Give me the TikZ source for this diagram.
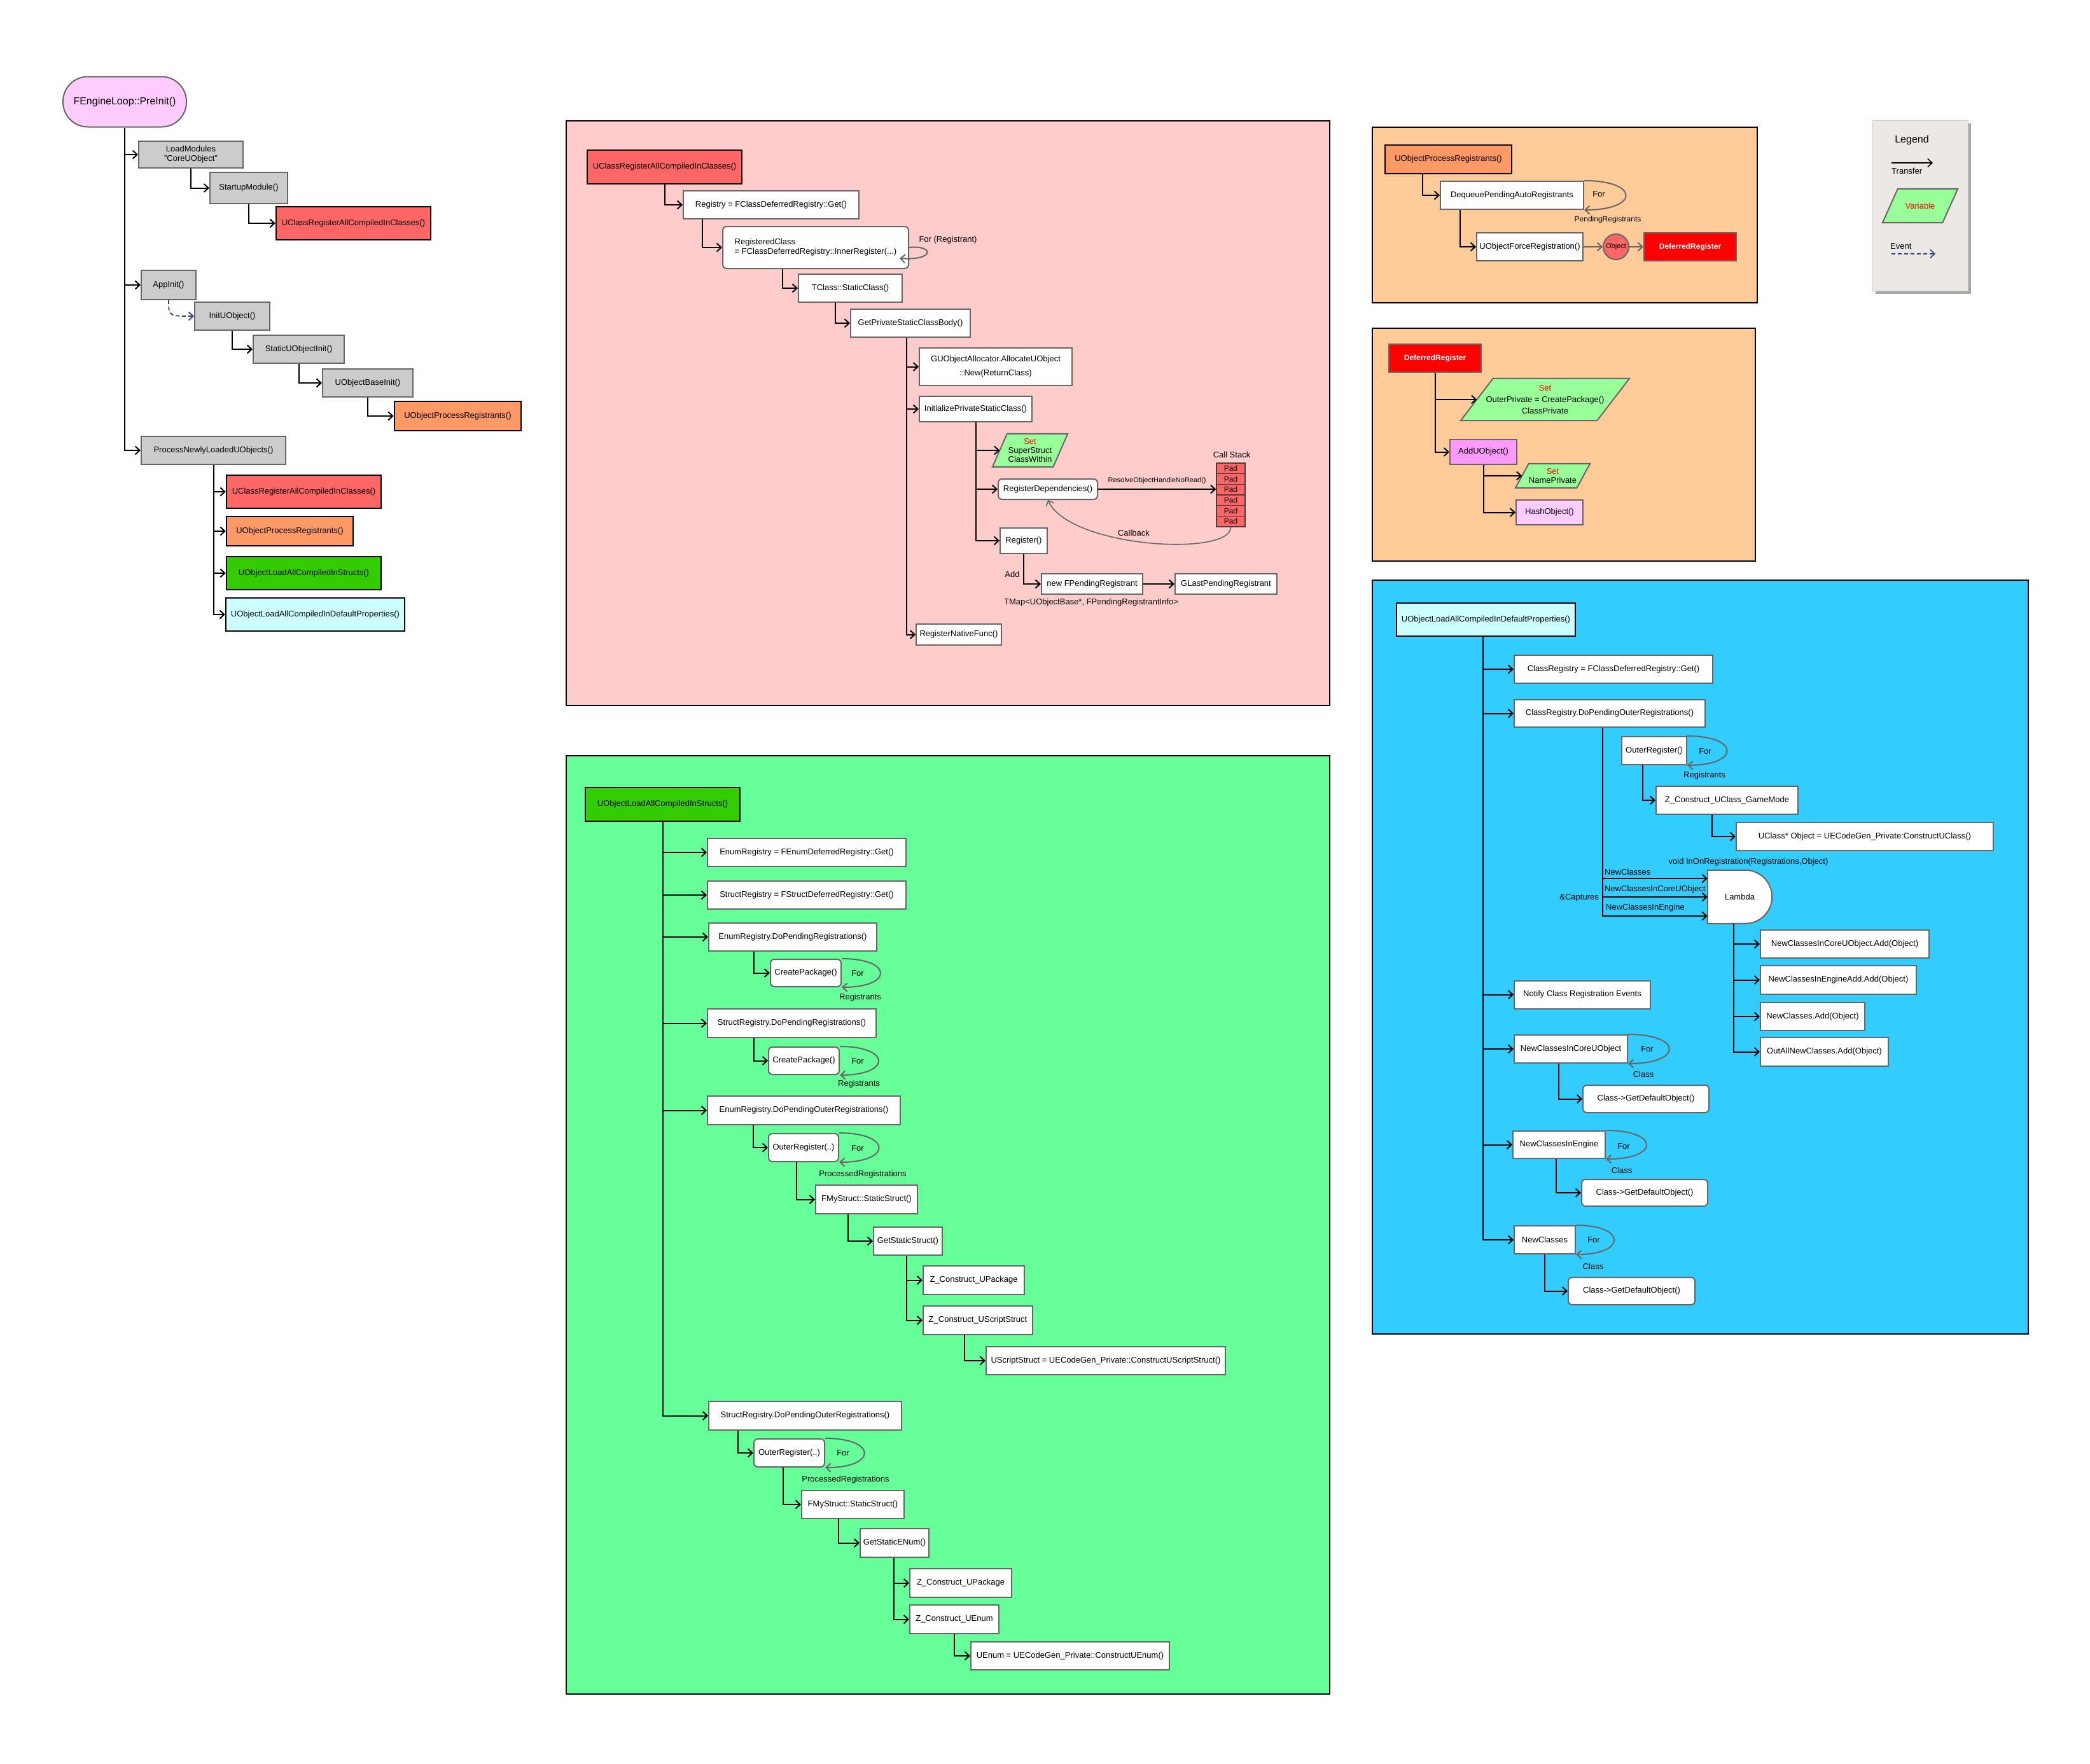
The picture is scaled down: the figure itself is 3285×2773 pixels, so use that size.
\documentclass[tikz,border=0pt]{standalone}
\usepackage{fontspec}
\setmainfont{Liberation Sans}
\usetikzlibrary{arrows.meta}

\definecolor{panred}{HTML}{FFCCCC}
\definecolor{panorange}{HTML}{FFCC99}
\definecolor{pangreen}{HTML}{66FF99}
\definecolor{panblue}{HTML}{33CCFF}
\definecolor{legbg}{HTML}{ECE9E4}
\definecolor{edgegray}{HTML}{666666}
\definecolor{boxgray}{HTML}{CCCCCC}
\definecolor{fnred}{HTML}{FF6666}
\definecolor{fnorange}{HTML}{FF9966}
\definecolor{fngreen}{HTML}{33CC00}
\definecolor{fncyan}{HTML}{CCFFFF}
\definecolor{fnpink}{HTML}{FFCCFF}
\definecolor{fnviolet}{HTML}{FF99FF}
\definecolor{varfill}{HTML}{99FF99}
\definecolor{evblue}{HTML}{2E3D8F}

\pgfdeclarelayer{panel}
\pgfdeclarelayer{shape}
\pgfsetlayers{panel,shape,main}

\tikzset{
  fn/.style={font=\fontsize{13}{15}\selectfont},
  sz/.style 2 args={minimum width=#1, minimum height=#2},
  wbox/.style={draw=edgegray, line width=2pt, fill=white, inner sep=0pt, align=center, fn},
  rbox/.style={wbox, rounded corners=6pt},
  gbox/.style={wbox, fill=boxgray},
  head/.style={wbox, draw=black, line width=2.5pt},
  defreg/.style={wbox, fill=red, text=white, font=\fontsize{12}{14}\selectfont\bfseries},
  varnode/.style={inner sep=0pt, align=center, font=\fontsize{13}{14}\selectfont},
  varline/.style={draw=edgegray, fill=varfill, line width=2pt},
  objnode/.style={circle, draw=edgegray, fill=fnred, line width=2pt, minimum size=40, inner sep=0pt, font=\fontsize{11}{11}\selectfont},
  padcell/.style={draw=black!75, fill=fnred, line width=1.5pt, sz={45}{16.67}, inner sep=0pt, font=\fontsize{12}{12}\selectfont},
  lbl/.style={inner sep=0pt, fn},
  panelbox/.style={draw=black, line width=2.5pt},
  arr/.style={line width=2pt, -{Straight Barb[length=7pt,width=13pt]}},
  garr/.style={arr, draw=edgegray},
  forline/.style={draw=edgegray, line width=2pt, -{Straight Barb[length=7pt,width=13pt]}},
  evarrow/.style={draw=evblue, line width=1.8pt, dash pattern=on 6pt off 4pt, -{Straight Barb[length=7pt,width=13pt]}}
}

\begin{document}
\begin{tikzpicture}[x=1pt, y=-1pt]
  \useasboundingbox (0,0) rectangle (3285,2773);

  \begin{pgfonlayer}{panel}
    \draw[panelbox, fill=panred] (890,190) rectangle (2090,1109);
    \draw[panelbox, fill=panorange] (2157,200) rectangle (2762,476);
    \draw[panelbox, fill=panorange] (2157,516) rectangle (2759,882);
    \draw[panelbox, fill=panblue] (2157,912) rectangle (3188,2097);
    \draw[panelbox, fill=pangreen] (890,1188) rectangle (2090,2663);
    \fill[black!35] (2948,194) rectangle (3098,462);
    \draw[draw=black!20, fill=legbg] (2943,189) rectangle (3093,457);
  \end{pgfonlayer}

  \node[wbox, fill=fnpink, rounded corners=39pt, sz={194}{79}, font=\fontsize{16}{18}\selectfont] (pre) at (196,160) {FEngineLoop::PreInit()};
  \node[gbox, sz={164}{42}] (lm) at (300,243) {LoadModules\\"CoreUObject"};
  \node[gbox, sz={122}{49}] (su) at (391,295.5) {StartupModule()};
  \node[head, fill=fnred, sz={243}{52}] (ucr1) at (555.5,351) {UClassRegisterAllCompiledInClasses()};
  \node[gbox, sz={86}{46}] (ai) at (265,448) {AppInit()};
  \node[gbox, sz={118}{44}] (iu) at (365,497) {InitUObject()};
  \node[gbox, sz={143}{44}] (soi) at (469.5,549) {StaticUObjectInit()};
  \node[gbox, sz={142}{44}] (obi) at (578,602) {UObjectBaseInit()};
  \node[head, fill=fnorange, sz={199}{46}] (opr1) at (719.5,654) {UObjectProcessRegistrants()};
  \node[gbox, sz={227}{44}] (pnl) at (335.5,708) {ProcessNewlyLoadedUObjects()};
  \node[head, fill=fnred, sz={243}{52}] (ucr2) at (477.5,773) {UClassRegisterAllCompiledInClasses()};
  \node[head, fill=fnorange, sz={199}{46}] (opr2) at (455.5,835) {UObjectProcessRegistrants()};
  \node[head, fill=fngreen, sz={243}{52}] (lcs1) at (477.5,901) {UObjectLoadAllCompiledInStructs()};
  \node[head, fill=fncyan, sz={281}{52}] (ldp1) at (495.5,966) {UObjectLoadAllCompiledInDefaultProperties()};

  \foreach \t in {lm,ai,pnl} \draw[arr] (pre.south) |- (\t.west);
  \draw[arr] (lm.south) |- (su.west);
  \draw[arr] (su.south) |- (ucr1.west);
  \draw[evarrow] (ai.south) .. controls (ai.south |- iu.west) .. (iu.west);
  \draw[arr] (iu.south) |- (soi.west);
  \draw[arr] (soi.south) |- (obi.west);
  \draw[arr] (obi.south) |- (opr1.west);
  \foreach \t in {ucr2,opr2,lcs1,ldp1} \draw[arr] (pnl.south) |- (\t.west);

  \node[head, fill=fnred, sz={243}{53}] (ucr3) at (1044.5,262.5) {UClassRegisterAllCompiledInClasses()};
  \node[wbox, sz={276}{44}] (reg) at (1212,322) {Registry = FClassDeferredRegistry::Get()};
  \node[rbox, align=left, sz={292}{66}] (rc) at (1282,389) {RegisteredClass\\= FClassDeferredRegistry::InnerRegister(...)};
  \node[wbox, sz={163}{44}] (tc) at (1336.5,453) {TClass::StaticClass()};
  \node[wbox, sz={188}{44}] (gp) at (1431,508) {GetPrivateStaticClassBody()};
  \node[wbox, sz={240}{59}] (ga) at (1565,576.5) {GUObjectAllocator.AllocateUObject\\[7pt]::New(ReturnClass)};
  \node[wbox, sz={177}{40}] (ip) at (1533.5,643) {InitializePrivateStaticClass()};
  \node[varnode, sz={118}{52}] (ss) at (1619,708) {{\color{red}Set}\\SuperStruct\\ClassWithin};
  \node[rbox, sz={156}{32}] (rd) at (1647,769) {RegisterDependencies()};
  \node[wbox, sz={74}{40}] (rg) at (1609,850) {Register()};
  \node[wbox, sz={159}{32}] (nf) at (1716.5,918) {new FPendingRegistrant};
  \node[wbox, sz={160}{32}] (gl) at (1927,918) {GLastPendingRegistrant};
  \node[wbox, sz={134}{33}] (rn) at (1507,997.5) {RegisterNativeFunc()};
  \node[lbl] (csl) at (1936,715) {Call Stack};
  \foreach \i in {0,...,5} \node[padcell] (p\i) at (1934.5,{736.3+16.67*\i}) {Pad};
  \node[lbl] (forreg) at (1490,377) {For (Registrant)};
  \node[lbl] (addl) at (1591,903) {Add};
  \node[lbl] (tmap) at (1715,947) {TMap<UObjectBase*, FPendingRegistrantInfo>};
  \node[lbl] (cbl) at (1782,838) {Callback};

  \draw[arr] (ucr3.south) |- (reg.west);
  \draw[arr] ([xshift=31pt]reg.south west) |- (rc.west);
  \draw[forline] (rc.east) .. controls +(40,-4) and +(55,4) .. ([shift={(-15pt,-17pt)}]rc.east);
  \draw[arr] ([xshift=95pt]rc.south west) |- (tc.west);
  \draw[arr] ([xshift=59pt]tc.south west) |- (gp.west);
  \foreach \t in {ga,ip,rn} \draw[arr] ([xshift=-6pt]gp.south) |- (\t.west);
  \draw[arr] (ip.south) |- ([xshift=11.5pt]ss.west);
  \draw[arr] (ip.south) |- (rd.west);
  \draw[arr] (ip.south) |- (rg.west);
  \draw[arr] (rd.east) -- (rd.east -| p2.west) node[midway, above=7pt, lbl, font=\fontsize{11}{11}\selectfont] {ResolveObjectHandleNoRead()};
  \draw[forline, line width=1.6pt] (p5.south) .. controls +(0,47) and +(34,75) .. (rd.south);
  \draw[arr] (rg.south) |- (nf.west);
  \draw[arr] (nf.east) -- (gl.west);

  \node[head, fill=fnorange, sz={199}{45}] (opr3) at (2276.5,250.5) {UObjectProcessRegistrants()};
  \node[wbox, sz={225}{44}] (dq) at (2376.5,307) {DequeuePendingAutoRegistrants};
  \node[wbox, sz={167}{44}] (fr) at (2404.5,388) {UObjectForceRegistration()};
  \node[objnode] (obj) at (2540,388) {Object};
  \node[defreg, sz={145}{44}] (dr1) at (2656.5,388) {DeferredRegister};
  \node[lbl] (forpr) at (2513,305) {For};
  \node[lbl, font=\fontsize{12}{12}\selectfont] (prl) at (2527,345) {PendingRegistrants};

  \draw[arr] ([xshift=60pt]opr3.south west) |- (dq.west);
  \draw[forline] (dq.north east) .. controls +(87,0) and +(87,0) .. (dq.south east);
  \draw[arr] ([xshift=32pt]dq.south west) |- (fr.west);
  \draw[garr] (fr.east) -- (obj.west);
  \draw[garr] (obj.east) -- (dr1.west);

  \node[defreg, sz={145}{44}] (dr2) at (2255.5,563) {DeferredRegister};
  \node[varnode, sz={265}{66}, font=\fontsize{13}{18}\selectfont] (op) at (2428.5,628) {{\color{red}Set}\\OuterPrivate = CreatePackage()\\ClassPrivate};
  \node[wbox, fill=fnviolet, sz={105}{39}] (au) at (2331.5,710.5) {AddUObject()};
  \node[varnode, sz={117}{38}] (np) at (2440.5,748) {{\color{red}Set}\\NamePrivate};
  \node[wbox, fill=fnpink, sz={105}{39}] (ho) at (2435.5,805.5) {HashObject()};

  \draw[arr] (dr2.south) |- ([xshift=25.5pt]op.west);
  \draw[arr] (dr2.south) |- (au.west);
  \draw[arr] (au.south) |- ([xshift=10.5pt]np.west);
  \draw[arr] (au.south) |- (ho.west);

  \node[lbl, font=\fontsize{16}{16}\selectfont] (legt) at (3005,220) {Legend};
  \coordinate (tr1) at (2973,256);
  \coordinate (tr2) at (3038,256);
  \draw[arr, line width=1.6pt] (tr1) -- (tr2);
  \node[lbl, anchor=west] (trl) at (2973,269) {Transfer};
  \node[varnode, sz={118}{53}] (lv) at (3018,323.5) {\color{red}Variable};
  \node[lbl, anchor=west] (evl) at (2971,387) {Event};
  \coordinate (ev1) at (2973,399);
  \coordinate (ev2) at (3042,399);
  \draw[evarrow, line width=1.6pt] (ev1) -- (ev2);

  \node[head, fill=fncyan, sz={281}{52}] (ldp2) at (2335.5,974) {UObjectLoadAllCompiledInDefaultProperties()};
  \node[wbox, sz={312}{44}] (cr) at (2536,1052) {ClassRegistry = FClassDeferredRegistry::Get()};
  \node[wbox, sz={300}{43}] (cdo) at (2530,1121.5) {ClassRegistry.DoPendingOuterRegistrations()};
  \node[wbox, sz={102}{44}] (or1) at (2600,1180) {OuterRegister()};
  \node[wbox, sz={223}{44}] (zc) at (2714.5,1258) {Z\_Construct\_UClass\_GameMode};
  \node[wbox, sz={404}{44}] (uc) at (2931,1315) {UClass* Object = UECodeGen\_Private:ConstructUClass()};
  \node[lbl] (vio) at (2748,1355) {void InOnRegistration(Registrations,Object)};
  \node[lbl, sz={101}{84}] (lam) at (2734.5,1410) {Lambda};
  \node[wbox, sz={265}{44}] (a1) at (2899.5,1484) {NewClassesInCoreUObject.Add(Object)};
  \node[wbox, sz={245}{45}] (a2) at (2889.5,1540.5) {NewClassesInEngineAdd.Add(Object)};
  \node[wbox, sz={164}{44}] (a3) at (2849,1598) {NewClasses.Add(Object)};
  \node[wbox, sz={201}{45}] (a4) at (2867.5,1653.5) {OutAllNewClasses.Add(Object)};
  \node[wbox, sz={214}{44}] (ne) at (2487,1563.5) {Notify Class Registration Events};
  \node[wbox, sz={178}{44}] (n1) at (2469,1649) {NewClassesInCoreUObject};
  \node[rbox, sz={198}{43}] (g1) at (2587,1727.5) {Class->GetDefaultObject()};
  \node[wbox, sz={145}{43}] (n2) at (2450.5,1799.5) {NewClassesInEngine};
  \node[rbox, sz={198}{42}] (g2) at (2585,1875) {Class->GetDefaultObject()};
  \node[wbox, sz={96}{44}] (n3) at (2428,1949) {NewClasses};
  \node[rbox, sz={199}{43}] (g3) at (2564.5,2029.5) {Class->GetDefaultObject()};
  \node[lbl] (forb0) at (2680,1181) {For};
  \node[lbl] (regb) at (2679,1219) {Registrants};
  \node[lbl, anchor=west] (cap1) at (2522,1371) {NewClasses};
  \node[lbl, anchor=west] (cap2) at (2522,1398) {NewClassesInCoreUObject};
  \node[lbl, anchor=west] (cap3) at (2524,1427) {NewClassesInEngine};
  \node[lbl, anchor=east] (capt) at (2513,1411) {\&Captures};
  \node[lbl] (forb1) at (2589,1649) {For};
  \node[lbl] (clb1) at (2583,1689) {Class};
  \node[lbl] (forb2) at (2552,1802) {For};
  \node[lbl] (clb2) at (2549,1840) {Class};
  \node[lbl] (forb3) at (2505,1949) {For};
  \node[lbl] (clb3) at (2504,1991) {Class};

  \foreach \t in {cr,cdo,ne,n1,n2,n3} \draw[arr] ([xshift=-5pt]ldp2.south) |- (\t.west);
  \draw[arr] ([xshift=140pt]cdo.south west) |- ([yshift=29pt]lam.west);
  \draw[arr] ([xshift=140pt]cdo.south west) |- (lam.west);
  \draw[arr] ([xshift=140pt]cdo.south west) |- ([yshift=-30pt]lam.west);
  \draw[forline] (or1.north east) .. controls +(83,0) and +(83,0) .. (or1.south east);
  \draw[arr] ([xshift=34pt]or1.south west) |- (zc.west);
  \draw[arr] ([xshift=89pt]zc.south west) |- (uc.west);
  \foreach \t in {a1,a2,a3,a4} \draw[arr] ([xshift=-10pt]lam.south) |- (\t.west);
  \draw[forline] (n1.north east) .. controls +(86,0) and +(86,0) .. (n1.south east);
  \draw[arr] ([xshift=71pt]n1.south west) |- (g1.west);
  \draw[forline] (n2.north east) .. controls +(85,0) and +(85,0) .. (n2.south east);
  \draw[arr] ([xshift=69pt]n2.south west) |- (g2.west);
  \draw[forline] (n3.north east) .. controls +(80,0) and +(80,0) .. (n3.south east);
  \draw[arr] (n3.south) |- (g3.west);

  \node[head, fill=fngreen, sz={243}{53}] (lcs2) at (1041.5,1264.5) {UObjectLoadAllCompiledInStructs()};
  \node[wbox, sz={312}{44}] (er) at (1268,1340) {EnumRegistry = FEnumDeferredRegistry::Get()};
  \node[wbox, sz={312}{44}] (sr) at (1268,1407) {StructRegistry = FStructDeferredRegistry::Get()};
  \node[wbox, sz={264}{44}] (ep) at (1246,1473) {EnumRegistry.DoPendingRegistrations()};
  \node[rbox, sz={111}{43}] (cp1) at (1266.5,1529.5) {CreatePackage()};
  \node[wbox, sz={265}{45}] (sp) at (1244.5,1608.5) {StructRegistry.DoPendingRegistrations()};
  \node[rbox, sz={111}{43}] (cp2) at (1263.5,1667.5) {CreatePackage()};
  \node[wbox, sz={303}{45}] (eo) at (1263.5,1745.5) {EnumRegistry.DoPendingOuterRegistrations()};
  \node[rbox, sz={110}{44}] (or2) at (1263,1804) {OuterRegister(..)};
  \node[wbox, sz={160}{45}] (fs1) at (1362,1885.5) {FMyStruct::StaticStruct()};
  \node[wbox, sz={108}{44}] (gs) at (1427,1951) {GetStaticStruct()};
  \node[wbox, sz={159}{45}] (zp1) at (1530.5,2012.5) {Z\_Construct\_UPackage};
  \node[wbox, sz={172}{45}] (zs) at (1537,2075.5) {Z\_Construct\_UScriptStruct};
  \node[wbox, sz={376}{44}] (us) at (1738,2139) {UScriptStruct = UECodeGen\_Private::ConstructUScriptStruct()};
  \node[wbox, sz={303}{45}] (so) at (1265.5,2225.5) {StructRegistry.DoPendingOuterRegistrations()};
  \node[rbox, sz={111}{44}] (or3) at (1240.5,2284) {OuterRegister(..)};
  \node[wbox, sz={161}{44}] (fs2) at (1340.5,2365) {FMyStruct::StaticStruct()};
  \node[wbox, sz={108}{45}] (ge) at (1406,2425.5) {GetStaticENum()};
  \node[wbox, sz={160}{45}] (zp2) at (1510,2488.5) {Z\_Construct\_UPackage};
  \node[wbox, sz={140}{45}] (zu) at (1500,2545.5) {Z\_Construct\_UEnum};
  \node[wbox, sz={312}{44}] (ue) at (1682,2603) {UEnum = UECodeGen\_Private::ConstructUEnum()};
  \node[lbl] (forg1) at (1348,1530) {For};
  \node[lbl] (rgg1) at (1352,1568) {Registrants};
  \node[lbl] (forg2) at (1348,1668) {For};
  \node[lbl] (rgg2) at (1350,1704) {Registrants};
  \node[lbl] (forg3) at (1348,1805) {For};
  \node[lbl] (prg3) at (1356,1846) {ProcessedRegistrations};
  \node[lbl] (forg4) at (1325,2284) {For};
  \node[lbl] (prg4) at (1329,2326) {ProcessedRegistrations};

  \foreach \t in {er,sr,ep,sp,eo,so} \draw[arr] (lcs2.south) |- (\t.west);
  \draw[arr] ([xshift=72pt]ep.south west) |- (cp1.west);
  \draw[forline] (cp1.north east) .. controls +(81,0) and +(81,0) .. (cp1.south east);
  \draw[arr] ([xshift=74pt]sp.south west) |- (cp2.west);
  \draw[forline] (cp2.north east) .. controls +(81,0) and +(81,0) .. (cp2.south east);
  \draw[arr] ([xshift=73pt]eo.south west) |- (or2.west);
  \draw[forline] (or2.north east) .. controls +(83,0) and +(83,0) .. (or2.south east);
  \draw[arr] ([xshift=45pt]or2.south west) |- (fs1.west);
  \draw[arr] ([xshift=52pt]fs1.south west) |- (gs.west);
  \draw[arr] ([xshift=53pt]gs.south west) |- (zp1.west);
  \draw[arr] ([xshift=53pt]gs.south west) |- (zs.west);
  \draw[arr] ([xshift=66pt]zs.south west) |- (us.west);
  \draw[arr] ([xshift=47pt]so.south west) |- (or3.west);
  \draw[forline] (or3.north east) .. controls +(82,0) and +(82,0) .. (or3.south east);
  \draw[arr] ([xshift=47pt]or3.south west) |- (fs2.west);
  \draw[arr] ([xshift=59pt]fs2.south west) |- (ge.west);
  \draw[arr] ([xshift=54pt]ge.south west) |- (zp2.west);
  \draw[arr] ([xshift=54pt]ge.south west) |- (zu.west);
  \draw[arr] (zu.south) |- (ue.west);

  \begin{pgfonlayer}{shape}
    \foreach \v/\s in {ss/23,op/51,np/21,lv/24}
      \draw[varline] (\v.south west) -- ([xshift=\s pt]\v.north west) -- (\v.north east) -- ([xshift=-\s pt]\v.south east) -- cycle;
    \draw[draw=edgegray, line width=2pt, fill=white] (lam.south west) -- (lam.north west) -- ([xshift=-42pt]lam.north east) arc[start angle=90, end angle=-90, radius=42pt] -- cycle;
  \end{pgfonlayer}

\end{tikzpicture}
\end{document}
